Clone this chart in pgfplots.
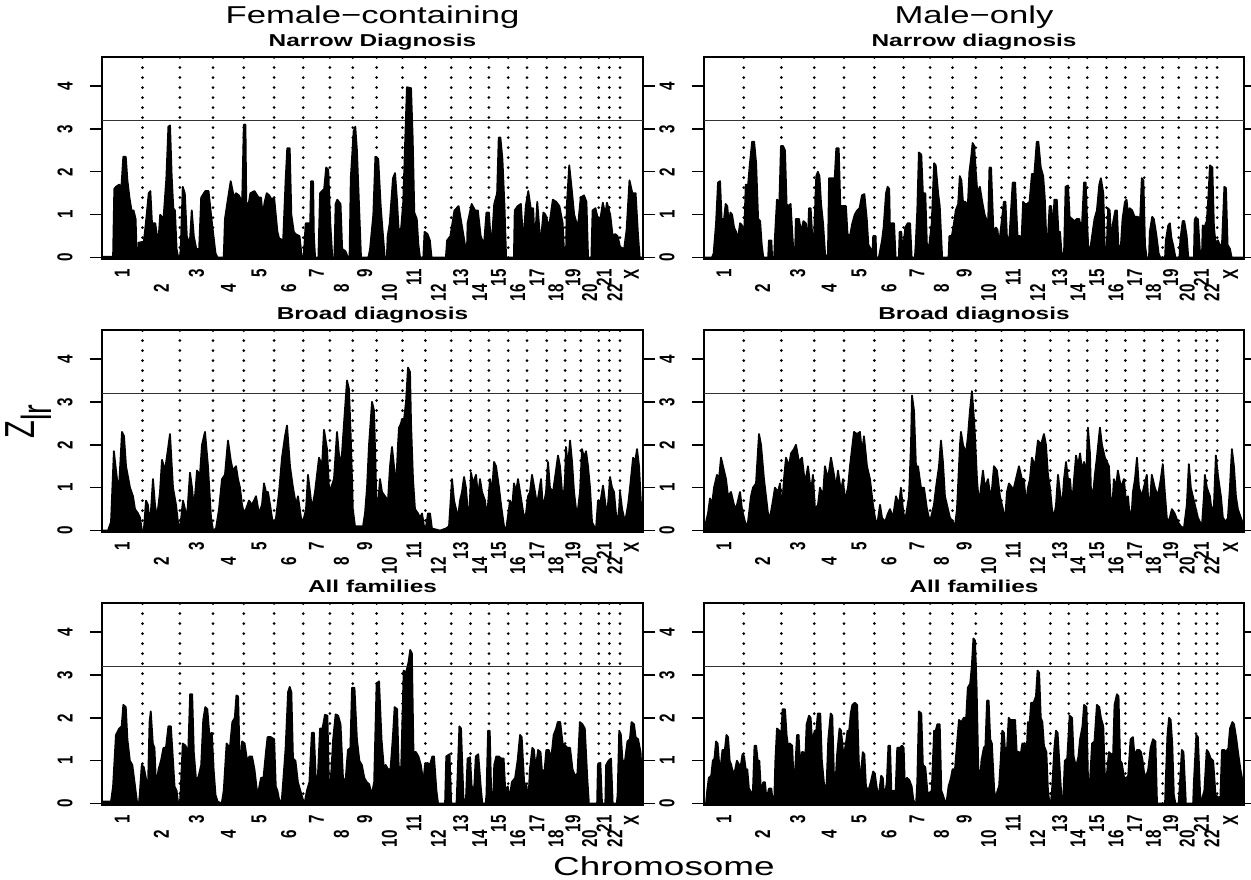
\documentclass[border=0pt]{standalone}
\usepackage{fontspec}
\setmainfont{Liberation Sans}
\usepackage{graphicx}
\usepackage{pgfplots}
\pgfplotsset{compat=1.18}

\newcommand{\SX}[1]{\scalebox{1.42}[1]{#1}}
\newcommand{\RL}[1]{\SX{\rotatebox{90}{\fontsize{7.6}{8}\selectfont\bfseries #1}}}
\newcommand{\RLd}[1]{\SX{\rotatebox{90}{\fontsize{7.6}{8}\selectfont\bfseries #1\hspace*{7.5pt}}}}
\newcommand{\PT}[1]{\SX{\fontsize{8.6}{10}\selectfont\bfseries #1}}

\pgfplotsset{
  panel/.style={
    scale only axis, width=270.5pt, height=101pt,
    ymin=-0.033, ymax=4.676,
    axis line style={line width=0.9pt},
    ytick={0,1,2,3,4},
    yticklabels={\RL{0},\RL{1},\RL{2},\RL{3},\RL{4}},
    ytick align=outside, major tick length=6.2pt,
    ytick style={line width=0.7pt, black},
    xtick style={draw=none},
    xticklabel style={anchor=north, inner sep=0pt, yshift=-5pt},
    yticklabel style={anchor=east, inner sep=0pt, xshift=-8.3pt},
    every axis title shift=0pt,
    title style={at={(0.5,1)}, anchor=base, yshift=5.3pt, inner sep=0pt},
    anchor=north west,
    xticklabels={\RL{1},\RLd{2},\RL{3},\RLd{4},\RL{5},\RLd{6},\RL{7},\RLd{8},\RL{9},\RLd{10},\RL{11},\RLd{12},\RL{13},\RLd{14},\RL{15},\RLd{16},\RL{17},\RLd{18},\RL{19},\RLd{20},\RL{21},\RLd{22},\RL{X}},
  },
  leftcol/.style={panel, xmin=248, xmax=1568,
    xtick={297.5,392.5,478.5,556.5,631,703.5,771.5,832,889,949.5,1009,1068.5,1123.5,1169.5,1215.5,1262,1309,1355.5,1397,1438,1473,1499,1540}},
  rightcol/.style={panel, xmin=208, xmax=1555, width=270pt,
    xtick={257.5,354,442,520,595,669.5,739,800,857,918,979,1040,1095,1141,1188,1235.5,1282.5,1329,1372,1413.5,1448.5,1475,1521.5}},
  dots/.style={ycomb, black, line width=1.5pt, line cap=round, dash pattern=on 0pt off 5pt, mark=none},
  thr/.style={black!80, line width=0.6pt},
  prof/.style={fill=black, draw=black, line width=0.9pt, line join=round, mark=none},
}

\newcommand{\LDots}{\addplot[dots] coordinates {(347,4.676)(438,4.676)(519,4.676)(594,4.676)(668,4.676)(739,4.676)(804,4.676)(860,4.676)(918,4.676)(981,4.676)(1037,4.676)(1100,4.676)(1147,4.676)(1192,4.676)(1239,4.676)(1285,4.676)(1333,4.676)(1378,4.676)(1416,4.676)(1460,4.676)(1486,4.676)(1512,4.676)};
\addplot[thr] coordinates {(248,3.2)(1568,3.2)};}
\newcommand{\RDots}{\addplot[dots] coordinates {(307,4.676)(401,4.676)(483,4.676)(557,4.676)(633,4.676)(706,4.676)(772,4.676)(828,4.676)(886,4.676)(950,4.676)(1008,4.676)(1072,4.676)(1118,4.676)(1164,4.676)(1212,4.676)(1259,4.676)(1306,4.676)(1352,4.676)(1392,4.676)(1435,4.676)(1462,4.676)(1488,4.676)};
\addplot[thr] coordinates {(208,3.2)(1555,3.2)};}

\begin{document}
\begin{tikzpicture}
\path[use as bounding box] (0,0) rectangle (625.5pt,-439.5pt);

\node[anchor=base] at (186.25pt,-11.5pt) {\SX{\fontsize{12.2}{14}\selectfont Female\char"2212 containing}};
\node[anchor=base] at (487pt,-11.5pt) {\SX{\fontsize{12.2}{14}\selectfont Male\char"2212 only}};
\node[anchor=base] at (332pt,-437.5pt) {\SX{\fontsize{13}{15}\selectfont Chromosome}};
\node[inner sep=0pt] at (14.25pt,-210.75pt) {\scalebox{1.45}[1]{\rotatebox{90}{\fontsize{14.5}{16}\selectfont Z\raisebox{-0.42em}{lr}}}};

% ---------- Row 1 left: Female-containing, Narrow Diagnosis
\begin{axis}[leftcol, at={(51pt,-28.5pt)}, title={\PT{Narrow Diagnosis}}]
\LDots
\addplot[prof] coordinates {(248,0.02)(275,0.02)(278,1.6)(282,1.65)(290,1.7)(295,1.6)(300,2.35)(306,2.35)(310,1.8)(315,1.4)(320,1.1)(325,1.1)(330,0.9)(333,0)(336,0)(338,0.35)(350,0.37)(355,0.8)(362,1.5)(366,1.55)(370,0.8)(378,0.8)(385,0.3)(390,1.0)(398,0.9)(405,1.85)(410,3.05)(414,3.08)(418,1.9)(422,1.15)(426,1.1)(430,0.2)(434,0)(438,0)(440,0.2)(445,1.65)(450,1.5)(455,0.5)(462,0.3)(467,1.1)(472,0.5)(478,0.2)(485,0.2)(490,1.4)(500,1.55)(508,1.55)(514,1.0)(520,0.5)(525,0.1)(530,0)(545,0)(548,0.9)(555,1.35)(562,1.78)(570,1.4)(575,1.5)(582,1.45)(590,1.3)(594,3.1)(598,3.1)(600,1.3)(605,1.2)(610,1.5)(620,1.55)(630,1.4)(636,1.4)(640,1.0)(645,1.3)(650,1.5)(656,1.45)(662,1.35)(668,1.4)(672,1.0)(676,0.6)(680,0.45)(690,0.4)(696,1.8)(700,2.55)(706,2.55)(710,1.0)(716,0.6)(720,0.55)(730,0.5)(735,0.05)(740,0)(745,0.8)(756,0.8)(758,1.78)(763,1.78)(765,0.5)(768,0)(776,0)(780,1.5)(790,1.6)(795,2.1)(800,2.05)(805,0.8)(810,0)(815,0)(818,1.25)(822,1.35)(830,1.25)(834,0.2)(842,0.15)(848,0)(852,0)(855,1.85)(862,2.95)(866,3.05)(870,2.5)(876,1.0)(880,0)(898,0)(902,0.2)(910,1.0)(915,2.35)(922,2.3)(928,1.2)(932,0.7)(938,0)(943,0)(945,0.5)(950,0.8)(958,1.85)(963,1.97)(968,1.3)(972,0.6)(978,0.7)(983,1.3)(988,2.8)(992,3.97)(1002,3.95)(1006,2.8)(1010,1.05)(1016,0.9)(1020,0.3)(1024,0)(1032,0)(1035,0.6)(1042,0.55)(1048,0.4)(1052,0)(1087,0)(1090,0.4)(1098,0.5)(1108,1.1)(1118,1.2)(1125,0.8)(1132,0.4)(1138,0)(1140,0.8)(1150,1.25)(1158,1.1)(1165,1.1)(1172,0.5)(1180,0.3)(1186,1.05)(1192,1.05)(1198,0.2)(1205,1.25)(1212,1.5)(1216,2.8)(1220,2.8)(1225,2.3)(1230,1.2)(1234,0)(1253,0)(1255,1.1)(1262,1.2)(1270,1.25)(1276,0.35)(1282,1.2)(1288,1.55)(1294,1.15)(1300,1.15)(1304,0.3)(1310,1.3)(1318,0.3)(1325,1.05)(1330,1.0)(1336,0.8)(1340,0.8)(1348,1.35)(1356,1.3)(1364,1.2)(1372,0.8)(1376,0)(1380,0)(1382,1.2)(1388,2.15)(1394,1.6)(1400,1.0)(1406,0.8)(1410,0.8)(1416,1.4)(1424,1.45)(1430,1.3)(1434,0)(1442,0)(1445,1.1)(1452,1.15)(1458,0.9)(1464,0.9)(1470,1.28)(1476,1.0)(1480,1.28)(1488,1.0)(1494,0.5)(1500,0.55)(1506,0.5)(1512,0.25)(1522,0.2)(1528,0.65)(1535,1.8)(1542,1.5)(1550,1.5)(1556,0.5)(1560,0)(1568,0)} \closedcycle;
\end{axis}

% ---------- Row 1 right: Male-only, Narrow diagnosis
\begin{axis}[rightcol, at={(352pt,-28.5pt)}, title={\PT{Narrow diagnosis}}]
\RDots
\addplot[prof] coordinates {(208,0)(228,0)(232,0.1)(238,0.8)(243,1.75)(248,1.78)(252,0.9)(258,0.9)(262,1.25)(266,1.2)(270,0.8)(274,1.05)(278,1.0)(283,0.7)(288,0.6)(292,0.4)(298,0.8)(303,0.75)(308,0.45)(312,1.7)(318,1.7)(322,2.15)(328,2.7)(333,2.7)(338,2.2)(343,0.9)(348,0.85)(352,0.3)(356,0)(368,0)(370,0.4)(376,0.4)(378,0)(383,0)(385,0.5)(390,1.35)(396,1.3)(400,2.6)(405,2.6)(410,2.5)(414,1.25)(418,1.2)(424,1.25)(428,0.6)(432,0)(435,0)(437,0.9)(445,0.9)(450,0.6)(456,0.85)(462,0.8)(466,0.2)(470,1.15)(474,1.15)(478,0.5)(482,0.4)(488,1.9)(492,2.0)(496,1.9)(500,1.25)(505,0.8)(510,0.1)(514,0)(517,0)(520,1.85)(528,1.85)(534,1.85)(538,2.55)(544,2.55)(548,1.2)(556,1.2)(562,1.2)(566,0.55)(572,0.5)(578,0.8)(584,1.0)(590,1.1)(596,1.15)(602,1.45)(608,1.48)(614,0.9)(618,0.3)(624,0.2)(628,0)(630,0.5)(636,0.5)(638,0)(644,0)(646,0.1)(652,0.4)(656,0.7)(662,1.5)(666,1.65)(670,1.6)(672,0.6)(676,0.8)(682,0.8)(686,0)(694,0)(696,0.6)(700,0.6)(704,0.1)(710,0.7)(716,0.8)(722,0.8)(726,0)(734,0)(736,0.3)(740,1.1)(744,2.45)(750,2.4)(754,1.5)(760,1.5)(764,0.3)(770,0.3)(776,0.8)(782,2.2)(786,2.15)(792,1.5)(796,1.2)(802,0)(818,0)(820,0.5)(826,0.5)(830,0.7)(836,1.1)(842,1.25)(846,1.9)(850,1.8)(854,1.3)(860,1.3)(866,1.2)(870,2.0)(874,2.3)(878,2.67)(882,2.6)(886,2.0)(890,1.5)(896,1.65)(902,1.3)(908,1.0)(912,0.9)(916,0.5)(920,2.1)(924,2.1)(930,0.6)(936,0.7)(940,0.65)(944,0.3)(950,0.8)(956,1.3)(960,1.3)(964,0.4)(970,0.5)(978,1.75)(984,1.75)(990,0.5)(996,0.5)(1000,0.4)(1004,1.3)(1008,1.25)(1014,1.25)(1020,1.3)(1026,1.95)(1032,1.95)(1038,2.7)(1042,2.7)(1048,2.1)(1054,1.9)(1058,1.4)(1062,0.4)(1066,0.5)(1070,1.2)(1074,1.2)(1078,0.6)(1082,1.35)(1088,1.35)(1092,0.6)(1096,0.6)(1100,0.1)(1106,0.1)(1110,1.65)(1116,1.68)(1120,0.95)(1126,0.9)(1132,0.85)(1138,0.9)(1144,0.9)(1150,0.6)(1156,1.75)(1160,1.75)(1166,0.3)(1170,0.1)(1176,0.5)(1182,0.9)(1188,1.1)(1194,1.7)(1198,1.85)(1204,1.5)(1208,0.1)(1212,0)(1216,1.15)(1220,1.1)(1224,0.3)(1228,0.8)(1234,1.1)(1238,1.1)(1242,0.2)(1248,0.3)(1252,0.9)(1258,1.3)(1262,1.35)(1266,1.0)(1270,1.15)(1276,1.1)(1282,0.95)(1290,0.95)(1296,0.9)(1300,1.85)(1304,1.8)(1308,0.3)(1312,0)(1318,0)(1320,0.6)(1326,0.95)(1330,0.9)(1336,0.55)(1342,0.1)(1346,0)(1358,0)(1360,0.4)(1366,0.75)(1370,0.8)(1374,0.45)(1378,0.3)(1384,0)(1394,0)(1396,0.4)(1402,0.85)(1406,0.85)(1412,0.5)(1416,0)(1430,0)(1432,0.9)(1440,0.9)(1446,0)(1450,0)(1452,0.75)(1456,0.7)(1462,0.85)(1466,1.4)(1470,2.15)(1476,2.1)(1480,0.7)(1484,0.35)(1490,0.4)(1494,0.3)(1500,0.3)(1506,1.65)(1510,1.62)(1514,0.3)(1520,0.2)(1524,0)(1555,0)} \closedcycle;
\end{axis}

% ---------- Row 2 left: Female-containing, Broad diagnosis
\begin{axis}[leftcol, at={(51pt,-165pt)}, title={\PT{Broad diagnosis}}]
\LDots
\addplot[prof] coordinates {(248,0)(262.6,0)(270,0.2)(277,1.85)(284.6,1.2)(289.5,1.0)(296.8,2.3)(301.7,2.2)(306.6,1.5)(316.3,1.0)(323.6,0.8)(328.5,0.5)(335.8,0.4)(340.7,0.3)(345.6,0)(350,0)(355.4,0.7)(360,0.6)(365,0.1)(372.4,1.2)(377.3,0.6)(382.2,0.3)(389.5,0.9)(394.4,1.65)(401.7,1.4)(409,1.9)(413.9,2.25)(421.2,1.0)(428.6,0.6)(433.4,0.2)(438,0)(445.6,0.7)(450.5,0.5)(455.4,0.3)(462.7,1.35)(467.6,1.0)(472.5,0.5)(479.8,1.4)(487,1.3)(492,2.0)(499.3,2.3)(506.6,1.5)(514,0.3)(519,0)(526.2,0.05)(533.5,0.5)(540.8,1.2)(548,1.3)(555.4,2.1)(562.7,1.6)(567.6,1.4)(574.9,1.5)(579.8,1.2)(584.7,1.0)(589.6,0.6)(594.5,0.4)(599.4,0.5)(606.7,0.7)(614,0.6)(623.8,0.8)(631,0.4)(638.4,0.6)(643.3,1.1)(648,0.9)(653,0.9)(658,0.6)(662.8,0.3)(667.7,0.1)(672.6,0.3)(680,0.9)(687.2,1.7)(694.5,2.2)(699.4,2.45)(706.7,1.5)(714,1.0)(721.3,0.6)(726.2,0.8)(733.5,0.3)(738.4,0.2)(745.8,0.5)(750.6,1.3)(755.5,0.9)(760.4,0.5)(767.7,0.9)(777.5,1.7)(784.8,1.5)(789.7,2.35)(797,1.9)(801.9,1.0)(806.8,1.0)(814,1.2)(821.4,2.3)(828.7,1.5)(833.6,1.8)(838.5,2.5)(845.8,3.5)(850.6,3.3)(855.6,2.0)(860,0.5)(865.3,0.1)(877.5,0.1)(884.8,0.1)(889.7,0.4)(894.6,1.0)(899.5,2.0)(906.8,3.0)(911.7,2.8)(916.6,1.0)(919,0.3)(926.3,1.2)(931.2,0.9)(938.5,0.8)(945.8,0.7)(950.7,1.5)(955.6,1.95)(960.5,1.5)(965.4,1.0)(970.2,2.0)(972.7,2.4)(977.6,2.5)(980,2.6)(985,2.6)(989.8,3.0)(994.6,3.8)(999.5,3.7)(1002,2.5)(1006.8,1.2)(1011.7,0.5)(1019,0.4)(1024,0.3)(1028.8,0.4)(1033.7,0.1)(1038.6,0.1)(1043.4,0.4)(1048.3,0.4)(1053,0.05)(1072.7,0)(1087.4,0.05)(1094.7,0.1)(1102,1.2)(1107,0.7)(1111.8,0.5)(1116.6,0.3)(1121.5,0.7)(1126.4,0.9)(1131.3,1.25)(1136,1.0)(1141,0.4)(1143.5,0.2)(1148.4,1.35)(1153.2,1.1)(1160.6,1.3)(1165.4,0.8)(1170.3,1.2)(1175.2,0.9)(1182.5,0.7)(1187.4,0.3)(1194.7,1.2)(1199.6,0.9)(1204.5,1.6)(1209.4,1.5)(1216.7,1.0)(1221.6,0.6)(1228.9,0.1)(1233.8,0)(1243.5,0.7)(1248.4,0.5)(1253.3,1.1)(1258.2,0.9)(1263,1.2)(1268,0.9)(1272.8,0.6)(1277.7,0.3)(1282.6,0.4)(1287.4,0.8)(1292.3,0.9)(1297.2,1.3)(1304.5,0.9)(1309.4,0.6)(1314.3,0.9)(1319.2,1.2)(1324,0.5)(1331.4,0.9)(1336.2,1.6)(1341,1.0)(1348.4,0.9)(1355.7,1.4)(1360.6,1.75)(1365.5,1.5)(1368,1.2)(1372.8,0.6)(1377.7,1.2)(1380,1.95)(1385,1.5)(1390,2.1)(1394.9,1.6)(1399.7,0.9)(1404.6,0.5)(1407,0.3)(1414.3,0.9)(1419.2,1.9)(1424,1.7)(1429,1.85)(1433.8,1.5)(1438.7,1.0)(1443.6,0.2)(1448.5,0.1)(1453.4,0.05)(1458.2,0.7)(1463,0.6)(1470.4,1.05)(1475.3,0.7)(1480,0.3)(1485,0.9)(1487.5,1.25)(1492.4,1.0)(1497.3,0.9)(1502,0.4)(1504.7,0.1)(1509.6,0.5)(1512,0.9)(1517,0.5)(1524.2,0.2)(1531.6,0.6)(1536.3,1.0)(1543.8,1.7)(1548.6,1.6)(1553.5,1.9)(1558.3,1.5)(1563.2,0.6)(1568,0.1)} \closedcycle;
\end{axis}

% ---------- Row 2 right: Male-only, Broad diagnosis
\begin{axis}[rightcol, at={(352pt,-165pt)}, title={\PT{Broad diagnosis}}]
\RDots
\addplot[prof] coordinates {(208,0)(213,0.2)(218,0.4)(223,0.75)(228,0.6)(233,1.0)(240.4,1.3)(245.4,1.2)(250.4,1.7)(255.4,1.5)(262.9,1.2)(267.9,0.8)(275.3,0.9)(282.8,0.6)(287.8,0.5)(292.8,0.7)(297.8,0.9)(302.8,0.5)(307.8,0.3)(312.7,0.1)(317.7,0.2)(325.2,0.8)(330.2,1.0)(337.7,1.1)(345.2,2.25)(350.2,2.0)(357.6,1.2)(362.6,0.8)(367.6,0.4)(372.6,0.3)(380,0.7)(385,1.0)(392.6,0.9)(397.5,1.1)(402.5,0.5)(407.5,1.2)(412.5,1.7)(420,1.5)(425,1.8)(432.4,1.9)(437.4,2.0)(444.9,1.6)(452.4,1.7)(459.9,1.1)(467.4,1.5)(474.8,0.9)(479.8,1.3)(484.8,0.5)(492.3,0.6)(497.3,1.0)(504.8,0.8)(509.7,1.5)(517.2,1.2)(524.7,1.7)(532.2,1.3)(537.2,1.0)(542.2,1.4)(549.7,0.9)(554.7,1.2)(559.6,0.7)(567.1,1.0)(572.1,1.5)(577.1,1.9)(582.1,2.3)(589.6,2.25)(597,2.3)(602,1.8)(607,2.2)(614.5,1.5)(622,1.2)(629.5,0.6)(634.5,0.3)(639.5,0.1)(647,0.6)(652,0.3)(659.4,0.2)(666.9,0.4)(671.9,0.5)(679.4,0.3)(686.9,0.8)(694.4,0.6)(699.3,1.0)(704.3,0.5)(709.3,0.2)(714.3,0.5)(719.3,0.8)(724.3,2.0)(726.8,3.15)(731.8,2.8)(736.7,1.5)(741.7,1.5)(749.2,1.0)(756.7,1.0)(764.2,0.5)(771.6,0.2)(776.6,0.4)(781.6,0.6)(786.6,1.0)(794.1,1.5)(799.1,2.1)(804,1.6)(809,0.8)(814,0.6)(821.5,0.3)(829,0.2)(834,0.1)(839,0.5)(841.5,1.0)(846.5,2.0)(849,2.3)(854,2.0)(861.4,1.8)(866.4,2.2)(871.4,2.8)(876.4,3.25)(881.4,2.6)(883.9,2.2)(888.9,1.2)(893.9,0.6)(898.8,1.0)(903.8,1.4)(908.8,1.0)(916.3,1.2)(923.8,0.7)(931.3,1.5)(938.7,1.4)(946.2,0.8)(953.7,0.5)(958.7,0.2)(963.7,0.9)(968.7,1.1)(976.2,1.0)(981.1,1.0)(988.6,1.3)(993.6,1.5)(1001,1.2)(1006,1.2)(1011,0.6)(1016,1.0)(1021,1.2)(1026,1.7)(1033.5,1.5)(1041,2.1)(1048.5,2.0)(1056,2.25)(1061,2.0)(1066,1.3)(1071,1.0)(1076,0.5)(1081,0.3)(1086,0.6)(1091,1.3)(1096,0.9)(1101,0.5)(1106,1.2)(1111,1.6)(1116,1.2)(1121,1.2)(1126,0.6)(1131,1.2)(1136,1.75)(1141,1.5)(1146,1.8)(1151,1.4)(1156,1.6)(1161,1.2)(1165.7,2.4)(1170.7,1.8)(1173,1.0)(1178,0.8)(1183,1.3)(1188,1.7)(1195.6,2.4)(1200.6,2.0)(1208,1.7)(1213,1.6)(1218,1.5)(1223,0.6)(1228,0.8)(1230.4,1.2)(1235.4,1.0)(1240.4,1.4)(1248,1.0)(1255.4,1.2)(1260.4,0.7)(1265.4,0.8)(1270.4,0.3)(1275.4,0.5)(1278,0.9)(1283,1.2)(1288,1.7)(1293,1.0)(1300,0.8)(1305,1.0)(1312.5,1.3)(1317.5,0.5)(1320,0.6)(1325,1.3)(1332.5,1.0)(1340,0.8)(1347.4,1.2)(1352.4,1.55)(1357.4,0.9)(1362.4,0.3)(1365,0.2)(1370,0.3)(1375,0.5)(1382,0.4)(1390,0.2)(1397.5,0.1)(1405,0.05)(1412.4,0.6)(1417.4,1.55)(1422.4,1.0)(1427.4,0.8)(1432.4,0.6)(1440,0.3)(1445,0.2)(1450,0.1)(1455,0.8)(1457.4,1.3)(1462.4,1.0)(1470,0.8)(1475,0.4)(1480,0.6)(1484.8,1.75)(1489.8,1.3)(1497.3,0.8)(1502.3,0.3)(1509.8,0.2)(1514.8,0.3)(1519.8,1.0)(1524.8,1.9)(1529.8,1.5)(1534.8,0.8)(1539.7,0.5)(1547,0.3)(1555,0.1)} \closedcycle;
\end{axis}

% ---------- Row 3 left: Female-containing, All families
\begin{axis}[leftcol, at={(51pt,-301.5pt)}, title={\PT{All families}}]
\LDots
\addplot[prof] coordinates {(248,0.05)(270,0.05)(275,0.4)(282,1.6)(290,1.75)(296,1.8)(300,2.3)(306,2.25)(310,1.5)(316,1.0)(322,0.9)(326,0.6)(330,0.3)(334,0)(338,0)(340,0.2)(345,0.9)(350,0.85)(355,0.6)(360,0.3)(364,1.9)(367,2.15)(372,1.4)(376,1.3)(380,0.4)(386,0.8)(392,1.0)(398,1.3)(404,1.3)(410,1.8)(416,1.8)(420,1.2)(425,0.4)(430,0.3)(434,0)(438,0)(440,0.3)(445,1.4)(452,1.35)(458,1.1)(463,2.55)(468,2.55)(472,1.2)(478,0.5)(484,0.65)(490,0.9)(495,1.95)(500,2.25)(505,2.2)(510,1.6)(516,1.65)(520,0.85)(525,0.2)(530,0.05)(540,0)(545,0.3)(552,1.4)(560,1.3)(566,1.9)(572,2.0)(576,2.52)(580,2.5)(585,0.7)(590,1.45)(596,1.4)(602,1.0)(608,1.1)(614,1.1)(620,0.8)(626,0.3)(630,0.3)(636,0.6)(642,0.6)(648,1.2)(652,1.55)(660,1.55)(668,1.5)(672,0.4)(676,0.3)(680,0.1)(686,0)(690,0.5)(696,1.3)(702,2.6)(706,2.72)(710,2.6)(714,1.05)(720,1.0)(726,0.5)(732,0.3)(738,0.1)(742,0)(748,0.3)(754,0.5)(760,1.65)(765,1.65)(770,0.5)(774,0.5)(780,1.75)(786,1.75)(792,2.07)(798,2.05)(802,0.3)(806,0.5)(812,1.5)(818,2.08)(824,2.05)(830,1.85)(836,0.6)(842,0.5)(848,1.25)(854,1.3)(858,2.7)(864,2.7)(870,1.5)(876,1.0)(882,0.9)(888,0.6)(894,0.5)(900,0.45)(906,0.2)(912,0.5)(918,2.8)(924,2.85)(930,1.5)(936,0.8)(940,0.9)(946,0.8)(952,0.8)(958,1.6)(962,2.25)(968,2.2)(972,0.85)(978,0.85)(984,3.1)(990,3.05)(996,3.3)(1000,3.58)(1004,3.5)(1008,1.2)(1014,1.2)(1020,1.1)(1026,0.9)(1032,0.5)(1036,0.9)(1042,0.95)(1048,0.9)(1054,1.1)(1058,1.1)(1064,0.3)(1068,0)(1085,0)(1088,1.1)(1096,1.15)(1100,0)(1113,0)(1115,0.5)(1120,1.8)(1124,1.75)(1130,0.1)(1136,0.1)(1140,1.05)(1146,1.08)(1150,0.4)(1156,0.35)(1160,1.1)(1166,1.15)(1172,0.4)(1176,0)(1184,0)(1186,0.2)(1190,1.7)(1194,1.7)(1198,0.1)(1202,0)(1205,0.9)(1210,1.1)(1216,1.1)(1222,1.05)(1228,1.05)(1232,0.3)(1238,0.4)(1242,0.1)(1248,0.5)(1256,0.6)(1262,1.0)(1268,1.6)(1272,1.55)(1278,0.5)(1284,0.4)(1288,0)(1292,0.8)(1298,1.3)(1302,1.25)(1306,0.8)(1312,1.25)(1318,1.2)(1322,0.7)(1328,0.8)(1332,1.25)(1338,1.25)(1344,1.05)(1350,1.6)(1356,1.75)(1360,1.9)(1366,1.9)(1372,1.4)(1378,1.35)(1384,1.3)(1390,1.3)(1396,0.8)(1402,0.65)(1408,0.7)(1414,1.9)(1420,1.85)(1426,1.75)(1432,0.6)(1436,0)(1456,0)(1458,0.9)(1464,0.95)(1468,0)(1476,0)(1478,0.9)(1484,1.0)(1490,1.05)(1494,0)(1504,0)(1506,0.2)(1510,1.7)(1514,1.6)(1518,1.0)(1524,1.0)(1530,1.45)(1536,1.5)(1540,1.9)(1546,1.85)(1550,1.55)(1556,1.5)(1562,1.2)(1566,0.5)(1568,0)} \closedcycle;
\end{axis}

% ---------- Row 3 right: Male-only, All families
\begin{axis}[rightcol, at={(352pt,-301.5pt)}, title={\PT{All families}}]
\RDots
\addplot[prof] coordinates {(208,0)(213,0)(216,0.3)(220,0.6)(226,0.65)(230,1.0)(234,1.05)(238,1.45)(242,1.4)(246,0.9)(250,0.9)(254,1.25)(260,1.25)(264,1.6)(268,1.55)(272,1.0)(276,0.9)(280,0.7)(286,0.8)(290,1.0)(296,0.9)(300,0.9)(304,1.15)(308,1.1)(312,0.8)(316,0.8)(320,0.35)(324,0.3)(328,0)(330,0.3)(334,1.35)(338,1.35)(342,1.0)(346,1.0)(350,0.3)(356,0.5)(360,0.5)(364,0.1)(370,0.35)(376,0.35)(380,0)(383,0)(386,1.0)(390,1.75)(396,1.7)(400,1.5)(404,2.2)(410,2.2)(414,1.6)(418,1.3)(422,1.4)(428,1.35)(432,0.4)(436,0.9)(440,1.6)(444,1.6)(448,0.8)(452,1.2)(456,1.2)(460,0.9)(464,1.85)(470,2.05)(474,2.0)(478,1.4)(484,1.7)(488,1.7)(492,2.1)(498,2.1)(502,1.0)(506,0.6)(510,0.2)(514,0.5)(518,1.5)(524,2.1)(528,2.05)(532,0.7)(536,0.5)(540,1.15)(546,1.75)(550,1.7)(556,1.1)(562,1.4)(566,1.7)(570,1.7)(574,2.1)(578,2.3)(584,2.35)(590,2.3)(594,1.0)(598,0.5)(604,1.2)(608,1.15)(612,0.4)(618,0.3)(624,0.5)(630,0.75)(634,0.7)(640,0.3)(644,0.2)(650,0.65)(654,0.6)(658,0.1)(664,0.5)(668,1.35)(672,1.35)(676,0.1)(680,0.3)(686,0.3)(690,1.3)(696,1.3)(702,1.35)(706,1.3)(710,0.1)(714,0.6)(720,0.55)(726,0.4)(730,0.1)(734,0)(737,0)(740,0.5)(744,2.15)(750,2.1)(754,0.9)(760,0.85)(766,0.2)(770,0.25)(776,0.3)(782,1.7)(786,1.7)(790,1.85)(796,1.85)(800,0.3)(804,0.2)(810,0)(814,0.1)(818,0.4)(824,0.6)(828,0.8)(834,0.8)(840,1.5)(844,1.95)(850,1.9)(856,2.0)(862,2.0)(866,2.7)(872,2.8)(876,3.2)(880,3.85)(884,3.8)(888,2.7)(892,0.9)(896,0.4)(900,1.0)(906,1.3)(910,1.35)(914,2.4)(918,2.4)(922,1.5)(926,1.4)(932,0.3)(936,0.1)(940,0.3)(944,0.4)(948,1.0)(952,1.7)(956,1.65)(960,1.1)(964,1.3)(968,2.0)(972,1.95)(978,1.95)(984,1.95)(988,1.2)(994,1.2)(998,1.15)(1002,1.4)(1008,1.4)(1012,1.0)(1016,1.9)(1020,1.85)(1024,2.35)(1030,2.35)(1036,2.5)(1040,3.1)(1044,3.05)(1048,2.0)(1052,1.9)(1056,1.35)(1062,1.2)(1066,0.3)(1070,0)(1073,0)(1076,0.3)(1082,1.3)(1086,1.7)(1090,1.65)(1096,0.7)(1100,0.1)(1104,0.1)(1108,1.0)(1114,1.05)(1120,2.05)(1126,2.0)(1130,1.1)(1136,0.85)(1142,1.1)(1146,1.5)(1152,1.8)(1156,2.3)(1162,2.25)(1166,0.5)(1170,0.4)(1176,1.4)(1182,1.45)(1188,2.3)(1194,2.25)(1198,2.0)(1204,1.8)(1208,0.6)(1212,0.6)(1218,1.2)(1224,1.15)(1228,1.0)(1232,2.3)(1238,2.55)(1242,2.5)(1246,1.0)(1250,0.95)(1256,0.6)(1262,0.6)(1266,0.65)(1272,1.5)(1278,1.55)(1282,1.1)(1288,1.25)(1294,1.25)(1298,1.2)(1302,1.0)(1306,0.7)(1310,0.6)(1316,0.8)(1322,1.3)(1328,1.5)(1334,1.45)(1338,0)(1358,0)(1360,0.6)(1364,1.6)(1368,2.0)(1372,1.95)(1376,1.4)(1380,0.2)(1384,0)(1392,0)(1394,0.3)(1400,1.25)(1404,1.2)(1410,0)(1428,0)(1430,0.5)(1436,1.6)(1440,1.55)(1446,0.1)(1450,0.1)(1456,0.3)(1462,1.25)(1466,1.2)(1472,1.05)(1478,1.0)(1484,0.2)(1490,0.15)(1496,0.15)(1500,1.25)(1506,1.25)(1510,1.2)(1516,1.3)(1520,1.75)(1526,1.9)(1530,1.85)(1536,1.5)(1540,1.2)(1546,0.8)(1550,0.6)(1555,0.5)} \closedcycle;
\end{axis}
\end{tikzpicture}
\end{document}
